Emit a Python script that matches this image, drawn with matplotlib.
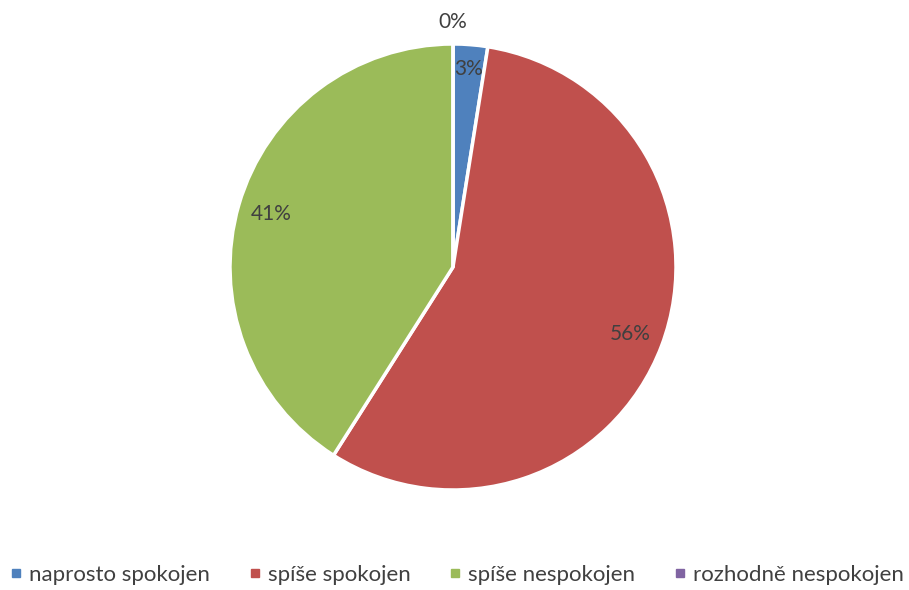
import numpy as np
import matplotlib.pyplot as plt
from matplotlib.lines import Line2D

labels = ["naprosto spokojen", "spíše spokojen", "spíše nespokojen", "rozhodně nespokojen"]
values = [2.5, 56.5, 41.0, 0.0]
pct_text = ["3%", "56%", "41%", "0%"]
colors = ["#4F81BD", "#C0504D", "#9BBB59", "#8064A2"]

plt.rcParams['font.family'] = ['Lato', 'DejaVu Sans']

fig = plt.figure(figsize=(9.09, 5.9), dpi=100)
r = 223
ax = fig.add_axes([(453 - r) / 909, 1 - (267 + r) / 590, 2 * r / 909, 2 * r / 590])

wedges, _ = ax.pie(values, colors=colors, startangle=90, counterclock=False,
                   wedgeprops=dict(edgecolor="white", linewidth=2.5))
ax.set_xlim(-1, 1)
ax.set_ylim(-1, 1)
ax.set_aspect("equal")

for w, t, v in zip(wedges, pct_text, values):
    ang = np.deg2rad((w.theta1 + w.theta2) / 2)
    d = 1.1 if v == 0 else (0.89 if v < 5 else 0.85)
    ax.text(d * np.cos(ang), d * np.sin(ang), t, ha="center", va="center",
            fontsize=15, color="#404040")

handles = [Line2D([], [], marker="s", linestyle="", markersize=6, color=c) for c in colors]
fig.legend(handles, labels, loc="lower center", ncol=4, frameon=False,
           bbox_to_anchor=(0.5, -0.025), fontsize=16, labelcolor="#404040",
           handletextpad=0.1, columnspacing=1.5, handlelength=1.0)

fig.savefig("out.png", dpi=100)
